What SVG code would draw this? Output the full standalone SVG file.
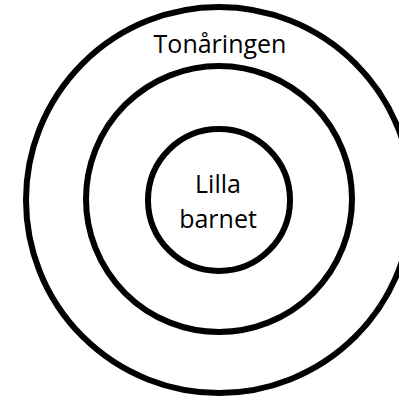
<svg xmlns="http://www.w3.org/2000/svg" width="399" height="396" viewBox="0 0 399 396">
<style>
.ring{fill:none;stroke:#000;stroke-width:6}
.t{font-family:"Open Sans","Liberation Sans",sans-serif;font-size:25px;fill:#000;text-anchor:middle}
</style>
<rect width="399" height="396" fill="#fff"/>
<g id="outer"><circle class="ring" cx="219" cy="200" r="193"/><text class="t" x="220" y="53">Tonåringen</text></g>
<g id="middle"><circle class="ring" cx="219" cy="199" r="133"/></g>
<g id="inner"><circle class="ring" cx="219" cy="200" r="71"/><text class="t" x="218" y="193">Lilla</text><text class="t" x="218" y="228">barnet</text></g>
<g id="connectors"/>
</svg>
